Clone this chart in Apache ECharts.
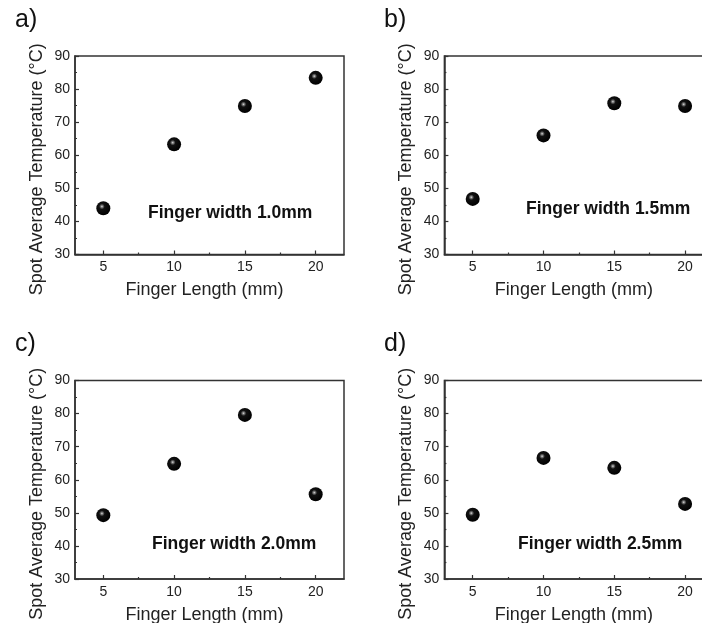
<!DOCTYPE html>
<html><head><meta charset="utf-8">
<script src="https://cdn.jsdelivr.net/npm/echarts@6/dist/echarts.min.js"></script>
<style>html,body{margin:0;padding:0;background:#fff}#c{width:702px;height:623px}</style>
</head><body><div id="c"></div>
<script>
const fingerLength = [5, 10, 15, 20];
const tempW10 = [44.0, 63.3, 74.9, 83.4];
const tempW15 = [46.8, 66.0, 75.7, 74.9];
const tempW20 = [49.3, 64.8, 79.6, 55.6];
const tempW25 = [49.4, 66.6, 63.6, 52.7];
const panelLabels = ['a)', 'b)', 'c)', 'd)'];
const widthLabels = ['Finger width 1.0mm', 'Finger width 1.5mm', 'Finger width 2.0mm', 'Finger width 2.5mm'];
const xTicks = [5, 10, 15, 20];
const xMinorTicks = [7.5, 12.5, 17.5];
const xName = 'Finger Length (mm)';
const yName = 'Spot Average Temperature (\u00B0C)';
const seriesData = [tempW10, tempW15, tempW20, tempW25];

const FONT = '"Liberation Sans", Arial, sans-serif';
const grids = [
  {left: 75, top: 56, width: 269, height: 198.5},
  {left: 444.4, top: 56, width: 269, height: 198.5},
  {left: 75, top: 380.5, width: 269, height: 198.5},
  {left: 444.4, top: 380.5, width: 269, height: 198.5}
];
const labelPos = [[15, 8], [384, 8], [15, 332], [384, 332]];
const annPos = [[148, 204], [526, 200], [152, 535], [518, 535]];

const lineStyle = {color: '#333', width: 1.5};
const option = {
  animation: false,
  backgroundColor: '#fff',
  grid: grids.map(g => Object.assign({show: true, borderColor: '#333', borderWidth: 1.5, outerBoundsMode: 'none', containLabel: false}, g)),
  xAxis: [],
  yAxis: [],
  series: [],
  graphic: []
};
grids.forEach((g, i) => {
  option.xAxis.push({
    gridIndex: i, type: 'value', min: 3, max: 22,
    name: xName, nameLocation: 'middle', nameGap: 27,
    nameTextStyle: {fontFamily: FONT, fontSize: 18, color: '#222', padding: [0, 10, 0, 0]},
    axisLine: {show: true, lineStyle: lineStyle},
    axisTick: {show: true, inside: true, length: 4, customValues: xTicks, lineStyle: {color: '#333', width: 1.2}},
    axisLabel: {show: true, customValues: xTicks, margin: 6, fontFamily: FONT, fontSize: 14, color: '#222'},
    splitLine: {show: false}
  });
  option.xAxis.push({
    gridIndex: i, type: 'value', min: 3, max: 22, position: 'bottom',
    axisLine: {show: false},
    axisTick: {show: true, inside: true, length: 2, customValues: xMinorTicks, lineStyle: {color: '#333', width: 1.2}},
    axisLabel: {show: false},
    splitLine: {show: false}
  });
  option.yAxis.push({
    gridIndex: i, type: 'value', min: 30, max: 90, interval: 10,
    name: yName, nameLocation: 'middle', nameGap: 29, nameRotate: 90,
    nameTextStyle: {fontFamily: FONT, fontSize: 18, color: '#222', padding: [0, 28, 0, 0]},
    axisLine: {show: true, lineStyle: lineStyle},
    axisTick: {show: true, inside: true, length: 4, lineStyle: {color: '#333', width: 1.2}},
    minorTick: {show: true, splitNumber: 2, length: 2, lineStyle: {color: '#333', width: 1.2}},
    axisLabel: {margin: 5, fontFamily: FONT, fontSize: 14, color: '#222'},
    splitLine: {show: false}
  });
  option.series.push({
    type: 'scatter', xAxisIndex: i * 2, yAxisIndex: i,
    data: fingerLength.map((x, k) => [x, seriesData[i][k]]),
    symbol: 'circle', symbolSize: 14,
    itemStyle: {
      opacity: 1,
      color: {type: 'radial', x: 0.4, y: 0.38, r: 0.62, colorStops: [
        {offset: 0, color: '#e0e0e0'}, {offset: 0.12, color: '#808080'},
        {offset: 0.32, color: '#111'}, {offset: 1, color: '#000'}]}
    }
  });
  option.graphic.push({
    type: 'text', left: labelPos[i][0], top: labelPos[i][1],
    style: {text: panelLabels[i], fontFamily: FONT, fontSize: 25, fill: '#111'}
  });
  option.graphic.push({
    type: 'text', left: annPos[i][0], top: annPos[i][1],
    style: {text: widthLabels[i], fontFamily: FONT, fontSize: 17.5, fontWeight: 'bold', fill: '#111'}
  });
});
const chart = echarts.init(document.getElementById('c'), null, {renderer: 'canvas'});
chart.setOption(option);
</script></body></html>
